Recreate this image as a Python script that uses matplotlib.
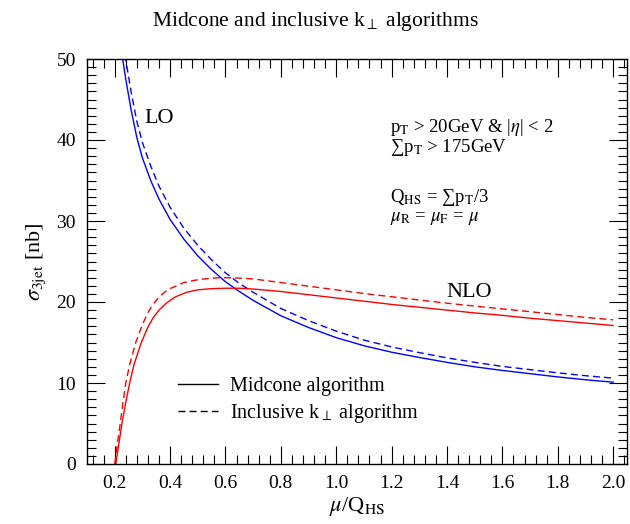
import matplotlib
matplotlib.use("Agg")
import matplotlib.pyplot as plt
from matplotlib.lines import Line2D
from matplotlib.ticker import MultipleLocator

plt.rcParams['font.family'] = ['Liberation Serif', 'DejaVu Serif']
plt.rcParams['mathtext.fontset'] = 'stix'

# LO curves (blue)
lo_x = [0.22, 0.24, 0.26, 0.28, 0.30, 0.33, 0.36, 0.40, 0.45, 0.50, 0.55, 0.60, 0.65, 0.70,
        0.80, 0.90, 1.00, 1.10, 1.20, 1.30, 1.40, 1.50, 1.60, 1.70, 1.80, 1.90, 2.00]
lo_midcone = [52.0, 47.5, 43.6, 40.3, 37.8, 35.0, 32.7, 30.2, 27.75, 25.7, 24.0, 22.5, 21.3, 20.2,
              18.3, 16.85, 15.6, 14.6, 13.8, 13.15, 12.55, 12.0, 11.55, 11.15, 10.75, 10.4, 10.1]
lo_kt = [54.6, 49.9, 45.8, 42.3, 39.7, 36.8, 34.3, 31.7, 29.1, 27.0, 25.2, 23.6, 22.3, 21.2,
         19.2, 17.7, 16.4, 15.3, 14.45, 13.75, 13.1, 12.55, 12.05, 11.65, 11.25, 10.9, 10.6]

# NLO curves (red)
nlo_x_midcone = [0.204, 0.215, 0.226, 0.24, 0.254, 0.27, 0.296, 0.32, 0.338, 0.36, 0.386, 0.42,
                 0.46, 0.50, 0.55, 0.60, 0.65, 0.70, 0.80, 0.90, 1.00, 1.10, 1.20, 1.30, 1.40,
                 1.50, 1.60, 1.70, 1.80, 1.90, 2.00]
nlo_midcone = [0.0, 2.5, 5.0, 7.6, 10.0, 12.3, 15.0, 16.9, 18.0, 19.0, 19.85, 20.65,
               21.2, 21.5, 21.65, 21.7, 21.7, 21.6, 21.3, 20.9, 20.5, 20.1, 19.7, 19.35, 19.0,
               18.65, 18.35, 18.0, 17.7, 17.4, 17.1]
nlo_x_kt = [0.200, 0.21, 0.22, 0.23, 0.24, 0.255, 0.276, 0.30, 0.32, 0.338, 0.36, 0.38, 0.40,
            0.45, 0.50, 0.55, 0.60, 0.65, 0.70, 0.80, 0.90, 1.00, 1.10, 1.20, 1.30, 1.40,
            1.50, 1.60, 1.70, 1.80, 1.90, 2.00]
nlo_kt = [0.0, 2.6, 5.0, 7.6, 10.0, 12.4, 15.0, 17.2, 18.7, 19.7, 20.6, 21.2, 21.65,
          22.4, 22.75, 22.95, 23.0, 22.95, 22.85, 22.4, 21.95, 21.5, 21.05, 20.65, 20.25, 19.85,
          19.5, 19.15, 18.8, 18.45, 18.1, 17.8]

fig = plt.figure(figsize=(6.3, 5.24), dpi=100)
ax = fig.add_axes([87 / 630, 1 - 464 / 524, 540 / 630, 405 / 524])

dash = (5, 3)
ax.plot(lo_x, lo_midcone, color='#0000ff', lw=1.0)
ax.plot(lo_x, lo_kt, color='#0000ff', lw=1.0, dashes=dash)
ax.plot(nlo_x_midcone, nlo_midcone, color='#ff0000', lw=1.0)
ax.plot(nlo_x_kt, nlo_kt, color='#ff0000', lw=1.0, dashes=dash)

ax.set_xlim(0.1, 2.05)
ax.set_ylim(0, 50)
ax.xaxis.set_major_locator(MultipleLocator(0.2))
ax.xaxis.set_minor_locator(MultipleLocator(0.04))
ax.yaxis.set_major_locator(MultipleLocator(10))
ax.yaxis.set_minor_locator(MultipleLocator(1))
ax.tick_params(which='both', direction='in', top=True, right=True, labelsize=14, width=0.8)
ax.tick_params(which='major', length=13, pad=8)
ax.tick_params(which='minor', length=6.5)
for s in ax.spines.values():
    s.set_linewidth(1.0)

ax.set_xlabel(r"$\mu$/Q$_\mathrm{HS}$", fontsize=16, labelpad=2)
ax.set_ylabel(r"$\sigma_\mathrm{3jet}$ [nb]", fontsize=16, labelpad=6)
fig.suptitle(r"Midcone and inclusive k$_\perp$ algorithms", fontsize=15.5, x=0.5, y=0.98)

ax.text(0.362, 42.6, "LO", fontsize=16, ha='center', va='center')
ax.text(1.48, 21.2, "NLO", fontsize=16, ha='center', va='center')

# cut / scale info block
info = [r"p$_\mathrm{T}$ > 20GeV & |$\eta$| < 2",
        r"∑p$_\mathrm{T}$ > 175GeV",
        r"Q$_\mathrm{HS}$ = ∑p$_\mathrm{T}$/3",
        r"$\mu_\mathrm{R}$ = $\mu_\mathrm{F}$ = $\mu$"]
info_y = [41.0, 38.5, 32.3, 30.0]
for t, yy in zip(info, info_y):
    ax.text(1.195, yy, t, fontsize=13.5, ha='left', va='baseline')

handles = [Line2D([], [], color='k', lw=1.0),
           Line2D([], [], color='k', lw=1.0, dashes=dash)]
ax.legend(handles, ["Midcone algorithm", r"Inclusive k$_\perp$ algorithm"],
          loc='center left', bbox_to_anchor=(0.1685, 0.155), frameon=False,
          fontsize=14.5, handlelength=2.0, handletextpad=0.6, borderpad=0,
          borderaxespad=0, labelspacing=0.3)

fig.savefig("out.png", dpi=100)
